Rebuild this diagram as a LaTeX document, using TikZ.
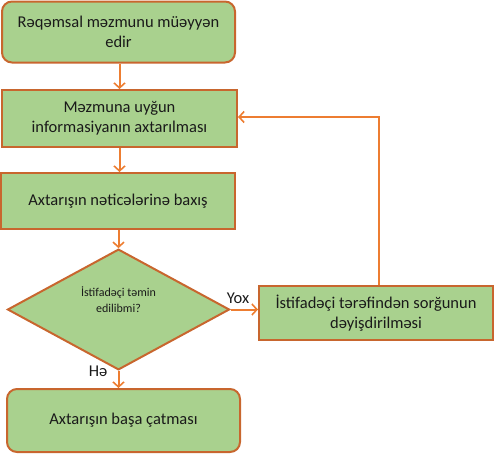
\documentclass[tikz,border=0pt]{standalone}
\usepackage{fontspec}
\setmainfont{Carlito}
\usetikzlibrary{shapes.geometric,arrows.meta}
\definecolor{boxfill}{HTML}{A9D18E}
\definecolor{boxline}{HTML}{C8662E}
\definecolor{conn}{HTML}{ED7D31}
\definecolor{txt}{HTML}{1A1A1A}
\tikzset{
  base/.style={draw=boxline, fill=boxfill, line width=2pt, text=txt, align=center, inner sep=2pt, font=\fontsize{16.5}{20}\selectfont},
  rbox/.style={base, rectangle, rounded corners=10pt},
  sbox/.style={base, rectangle},
  dec/.style={base, diamond, inner sep=0pt, font=\fontsize{12}{16}\selectfont},
  conn/.style={draw=conn, line width=2pt, -{Straight Barb[length=5pt,width=11pt,line width=1.6pt]}},
  lbl/.style={text=txt, font=\fontsize{16.5}{20}\selectfont, inner sep=1pt}
}
\begin{document}
\begin{tikzpicture}[x=1pt,y=1pt]
\useasboundingbox (0,0) rectangle (494,-453);
\node[rbox, minimum width=233pt, minimum height=61pt] (a) at (118.5,-32) {Rəqəmsal məzmunu müəyyən\\edir};
\node[sbox, minimum width=235pt, minimum height=57pt] (b) at (119.5,-118.5) {Məzmuna uyğun\\informasiyanın axtarılması};
\node[sbox, minimum width=234pt, minimum height=56pt] (c) at (118,-201) {Axtarışın nəticələrinə baxış};
\node[dec, minimum width=222pt, minimum height=105pt] (d) at (118.5,-309.5) {İstifadəçi təmin\\edilibmi?\\[4pt]};
\node[sbox, minimum width=234pt, minimum height=54pt] (e) at (376,-313) {İstifadəçi tərəfindən sorğunun\\dəyişdirilməsi};
\node[rbox, minimum width=233pt, minimum height=63pt] (f) at (123.5,-420.5) {Axtarışın başa çatması};
\coordinate (t) at (379,-117);
\draw[conn] (a.south -| b.north) -- (b.north);
\draw[conn] (b.south) -- (c.north -| b.south);
\draw[conn] (c.south -| d.north) -- (d.north);
\draw[conn] (d.south) -- (d.south |- f.north);
\draw[conn] (d.east) -- (e.west |- d.east);
\draw[conn] (e.north -| t) -- (t) -- (b.east |- t);
\node[lbl] at (238,-298) {Yox};
\node[lbl] at (98,-371) {Hə};
\end{tikzpicture}
\end{document}
